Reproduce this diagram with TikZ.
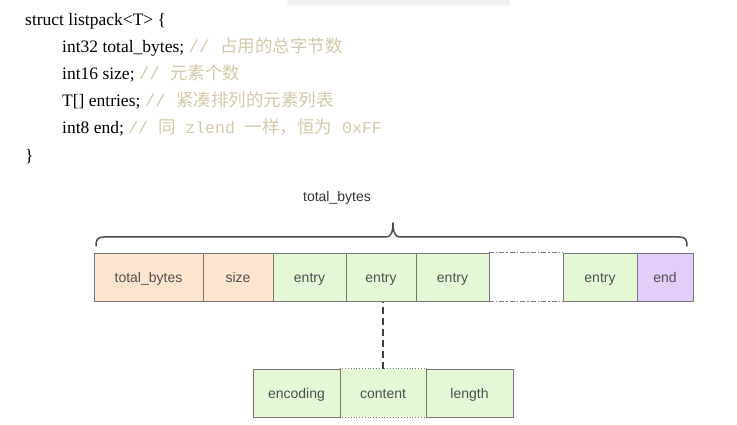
\documentclass[tikz,border=0pt]{standalone}
\usepackage{fontspec}
\setmainfont{Liberation Serif}
\setsansfont{Liberation Sans}
\setmonofont{Liberation Mono}
\newfontfamily\cjk{Noto Sans CJK SC}[FakeBold=0]
\definecolor{peach}{HTML}{FCE4CF}
\definecolor{lgreen}{HTML}{E5F8D5}
\definecolor{lpurple}{HTML}{E3CEFA}
\definecolor{bordc}{HTML}{777777}
\definecolor{boxtext}{HTML}{505050}
\definecolor{cmt}{HTML}{D3C8A8}
\newcommand{\cm}[1]{{\color{cmt}#1}}
\begin{document}
\begin{tikzpicture}[x=1pt,y=-1pt,
  cell/.style={rectangle,draw=bordc,line width=1pt,minimum height=48pt,inner sep=0pt,
    text height=10pt,text depth=0pt,
    font=\sffamily\fontsize{14}{16}\selectfont,text=boxtext},
  codeline/.style={anchor=base west,inner sep=0pt,font=\fontsize{17.5}{20}\selectfont},
]
\useasboundingbox (0,0) rectangle (737,425);
% top grey bar
\fill[black!4] (287,0) rectangle (510,6);
\fill[black!6] (288,0) rectangle (509,4);
% code
\node[codeline] (l1) at (25,26) {struct listpack<T> \{};
\node[codeline] (l2) at (62,53) {int32 total\_bytes; \cm{{\ttfamily// }{\cjk 占用的总字节数}}};
\node[codeline] (l3) at (62,80) {int16 size; \cm{{\ttfamily// }{\cjk 元素个数}}};
\node[codeline] (l4) at (62,107) {T[] entries; \cm{{\ttfamily// }{\cjk 紧凑排列的元素列表}}};
\node[codeline] (l5) at (62,134) {int8 end; \cm{{\ttfamily\fontsize{16.5}{20}\selectfont// }{\cjk 同}{\ttfamily\fontsize{16.5}{20}\selectfont\ zlend }{\cjk 一样，恒为}{\ttfamily\fontsize{16.5}{20}\selectfont\ 0xFF}}};
\node[codeline] (l6) at (25,162) {\}};
% brace label
\node[font=\sffamily\fontsize{14}{16}\selectfont,text=black!80,inner sep=0pt] (lbl) at (337,198) {total\_bytes};
% brace
\draw[line width=1.5pt,black!70,line cap=round,line join=round]
  (96,246) .. controls (96,239) and (98,237) .. (104,237) -- (386,237)
  .. controls (391,237) and (393,232) .. (393,223)
  .. controls (393,232) and (395,237) .. (400,237) -- (679,237)
  .. controls (685,237) and (687,239) .. (687,246);
% main row
\node[cell,fill=peach,minimum width=109pt] (tb) at (148.5,277) {total\_bytes};
\node[cell,fill=peach,minimum width=70pt] (sz) at (238,277) {size};
\node[cell,fill=lgreen,minimum width=73pt] (e1) at (309.5,277) {entry};
\node[cell,fill=lgreen,minimum width=70pt] (e2) at (381,277) {entry};
\node[cell,fill=lgreen,minimum width=73pt] (e3) at (452.5,277) {entry};
\node[rectangle,minimum width=74pt,minimum height=48pt,inner sep=0pt] (gap) at (526,277) {};
\node[cell,fill=lgreen,minimum width=74pt] (e4) at (600,277) {entry};
\node[cell,fill=lpurple,minimum width=56pt] (en) at (665,277) {end};
\draw[bordc,line width=1pt,dash pattern=on 5pt off 2pt on 1.5pt off 2pt] (gap.north west) -- (gap.north east);
\draw[bordc,line width=1pt,dash pattern=on 5pt off 2pt on 1.5pt off 2pt] (gap.south west) -- (gap.south east);
% entry detail
\node[cell,fill=lgreen,draw=none,minimum width=86pt] (con) at (383,393) {content};
\draw[bordc,line width=0.8pt,dotted] (con.north west) -- (con.north east);
\draw[bordc,line width=0.8pt,dotted] (con.south west) -- (con.south east);
\node[cell,fill=lgreen,minimum width=87pt] (enc) at (296.5,393) {encoding};
\node[cell,fill=lgreen,minimum width=87pt] (len) at (469.5,393) {length};
\draw[black!75,line width=2pt,dash pattern=on 7pt off 4pt] (con.north) -- (con.north |- e2.south);
\end{tikzpicture}
\end{document}
